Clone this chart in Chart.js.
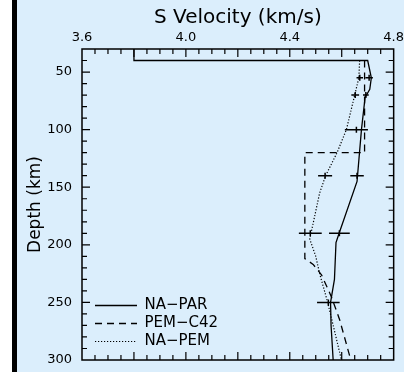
<!DOCTYPE html>
<html>
<head>
<meta charset="utf-8">
<script src="https://cdn.jsdelivr.net/npm/chart.js@4.4.1/dist/chart.umd.min.js"></script>
<style>
  html, body { margin: 0; padding: 0; background: #fff; }
  canvas {
    display: block;
    background: linear-gradient(to right, #ffffff 0px, #ffffff 12px, #000000 12px, #000000 17px, #dbeefc 17px);
  }
</style>
</head>
<body>
<canvas id="myChart" width="404" height="372"></canvas>
<script>
// S velocity (km/s) against depth (km)
const naParDepth = [30, 40, 40, 55, 65, 72, 100, 145, 190, 198, 230, 250, 270, 300];
const naParVs = [3.80, 3.80, 4.700, 4.714, 4.708, 4.690, 4.676, 4.659, 4.590, 4.578, 4.572, 4.557, 4.559, 4.567];

const pemC42Depth = [40, 120, 120, 212, 217, 226, 245, 265, 300];
const pemC42Vs = [4.688, 4.688, 4.458, 4.458, 4.490, 4.522, 4.560, 4.592, 4.635];

const naPemDepth = [40, 55, 70, 100, 120, 140, 155, 195, 210, 225, 250, 300];
const naPemVs = [4.669, 4.666, 4.650, 4.618, 4.582, 4.538, 4.515, 4.477, 4.500, 4.515, 4.546, 4.599];

// horizontal error bars
const errDepth = [55, 55, 70, 70, 100, 140, 140, 190, 190, 250];
const errLow = [4.657, 4.691, 4.637, 4.682, 4.612, 4.509, 4.633, 4.435, 4.551, 4.505];
const errHigh = [4.682, 4.720, 4.667, 4.704, 4.701, 4.563, 4.685, 4.523, 4.631, 4.592];

const xTickLabels = [3.6, 4.0, 4.4, 4.8];
const yTickLabels = [50, 100, 150, 200, 250, 300];
const xMin = 3.6, xMax = 4.8, xMinorStep = 0.05, xMajorEvery = 4;
const yMin = 30, yMax = 300, yMinorStep = 10, yMajorEvery = 5;

function toPoints(depths, vs) {
  return depths.map((d, i) => ({ x: vs[i], y: d }));
}

Chart.defaults.font.family = "'DejaVu Sans', sans-serif";
Chart.defaults.color = '#000';

// box round the plot with inward ticks on all four sides
const frameTicks = {
  id: 'frameTicks',
  afterDatasetsDraw(chart) {
    const { ctx, chartArea: a, scales: { x, y } } = chart;
    ctx.save();
    ctx.strokeStyle = '#000';
    ctx.lineWidth = 1.5;
    ctx.strokeRect(a.left, a.top, a.right - a.left, a.bottom - a.top);
    ctx.lineWidth = 1.2;
    ctx.beginPath();
    const nx = Math.round((xMax - xMin) / xMinorStep);
    for (let i = 1; i < nx; i++) {
      const px = x.getPixelForValue(xMin + i * xMinorStep);
      const len = i % xMajorEvery === 0 ? 8 : 5;
      ctx.moveTo(px, a.top); ctx.lineTo(px, a.top + len);
      ctx.moveTo(px, a.bottom); ctx.lineTo(px, a.bottom - len);
    }
    const ny = Math.round((yMax - yMin) / yMinorStep);
    for (let i = 1; i < ny; i++) {
      const v = yMin + i * yMinorStep;
      const py = y.getPixelForValue(v);
      const len = (v / yMinorStep) % yMajorEvery === 0 ? 8 : 5;
      ctx.moveTo(a.left, py); ctx.lineTo(a.left + len, py);
      ctx.moveTo(a.right, py); ctx.lineTo(a.right - len, py);
    }
    ctx.stroke();

    // error bars
    ctx.lineWidth = 1.5;
    ctx.beginPath();
    errDepth.forEach((d, i) => {
      const py = y.getPixelForValue(d);
      const x1 = x.getPixelForValue(errLow[i]);
      const x2 = x.getPixelForValue(errHigh[i]);
      const xc = x.getPixelForValue((errLow[i] + errHigh[i]) / 2);
      ctx.moveTo(x1, py); ctx.lineTo(x2, py);
      ctx.moveTo(xc, py - 3); ctx.lineTo(xc, py + 3);
    });
    ctx.stroke();
    ctx.restore();
  },
  afterLayout(chart) {
    // legend sits in the lower left corner of the plot
    const a = chart.chartArea;
    chart.legend.left = a.left + 10;
    chart.legend.top = a.top;
    chart.legend.bottom = a.bottom - 8;
  }
};

const ctx = document.getElementById('myChart').getContext('2d');
const chart = new Chart(ctx, {
  type: 'scatter',
  data: {
    datasets: [{
      label: 'NA\u2212PAR',
      data: toPoints(naParDepth, naParVs),
      showLine: true,
      borderColor: '#000',
      backgroundColor: '#000',
      borderWidth: 1.3,
      pointRadius: 0,
      pointStyle: 'line'
    }, {
      label: 'PEM\u2212C42',
      data: toPoints(pemC42Depth, pemC42Vs),
      showLine: true,
      borderColor: '#000',
      backgroundColor: '#000',
      borderWidth: 1.3,
      borderDash: [7, 5],
      pointRadius: 0,
      pointStyle: 'line'
    }, {
      label: 'NA\u2212PEM',
      data: toPoints(naPemDepth, naPemVs),
      showLine: true,
      borderColor: '#000',
      backgroundColor: '#000',
      borderWidth: 1.2,
      borderDash: [1.2, 1.8],
      pointRadius: 0,
      pointStyle: 'line'
    }]
  },
  options: {
    responsive: false,
    animation: false,
    devicePixelRatio: 1,
    layout: { padding: { left: 17, right: 10, top: 0, bottom: 12 } },
    scales: {
      x: {
        type: 'linear',
        position: 'top',
        min: xMin,
        max: xMax,
        afterBuildTicks: s => { s.ticks = xTickLabels.map(v => ({ value: v })); },
        afterFit: s => { s.height = 49; },
        grid: { display: false, drawTicks: false },
        border: { display: false },
        ticks: { font: { size: 13, lineHeight: 1.7 }, padding: 0, maxRotation: 0, autoSkip: false,
                 callback: v => v.toFixed(1) },
        title: { display: true, text: 'S Velocity (km/s)', font: { size: 20 },
                 padding: { top: 6, bottom: 0 } }
      },
      y: {
        type: 'linear',
        position: 'left',
        reverse: true,
        min: yMin,
        max: yMax,
        afterBuildTicks: s => { s.ticks = yTickLabels.map(v => ({ value: v })); },
        afterFit: s => { s.width = 65; },
        grid: { display: false, drawTicks: false },
        border: { display: false },
        ticks: { font: { size: 13, lineHeight: 0.3 }, padding: 10, autoSkip: false },
        title: { display: true, text: 'Depth (km)', font: { size: 17 },
                 padding: { top: 8, bottom: 0 } }
      }
    },
    plugins: {
      tooltip: { enabled: false },
      legend: {
        position: 'chartArea',
        align: 'end',
        labels: {
          usePointStyle: true,
          pointStyleWidth: 42,
          padding: 3,
          font: { size: 15 },
          color: '#000',
          generateLabels: c => Chart.defaults.plugins.legend.labels.generateLabels(c).map((item, i) => {
            item.lineDash = c.data.datasets[i].borderDash || [];
            item.lineWidth = c.data.datasets[i].borderWidth;
            return item;
          })
        }
      }
    }
  },
  plugins: [frameTicks]
});
</script>
</body>
</html>
